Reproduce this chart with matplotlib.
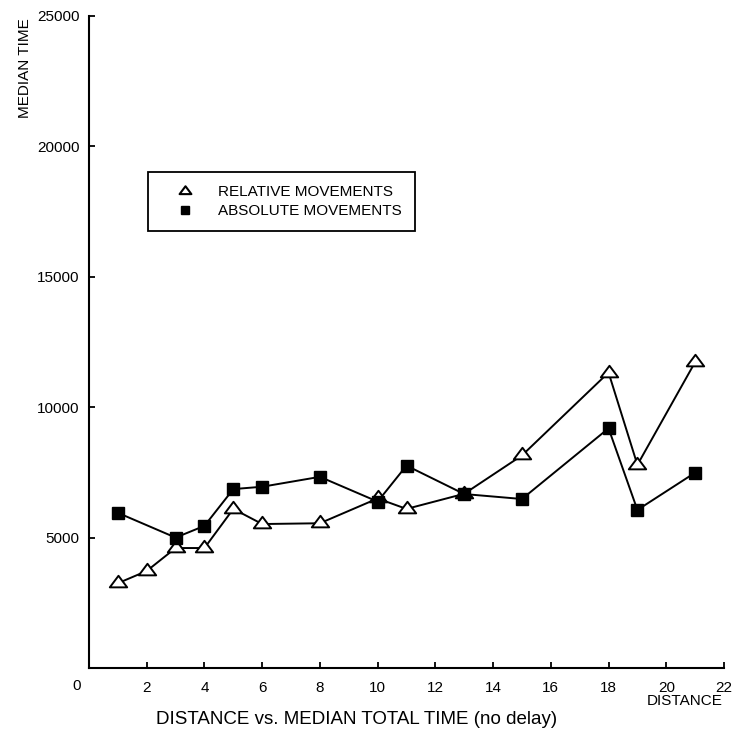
import numpy as np
import matplotlib
matplotlib.use('Agg')
import matplotlib.pyplot as plt
from matplotlib.path import Path
from matplotlib.lines import Line2D

plt.rcParams['font.family'] = ['Liberation Sans', 'DejaVu Sans']

# data
rel_x = [1, 2, 3, 4, 5, 6, 8, 10, 11, 13, 15, 18, 19, 21]
rel_y = [3250, 3720, 4600, 4600, 6100, 5520, 5550, 6500, 6100, 6680, 8150, 11330, 7790, 11730]

abs_x = [1, 3, 4, 5, 6, 8, 10, 11, 13, 15, 18, 19, 21]
abs_y = [5950, 5000, 5450, 6860, 6950, 7330, 6380, 7760, 6670, 6480, 9190, 6060, 7490]

x_ticks = [2, 4, 6, 8, 10, 12, 14, 16, 18, 20, 22]
y_ticks = [5000, 10000, 15000, 20000, 25000]

# triangle with its centroid at the data point
tri = Path([(0, 0.889), (-1, -0.444), (1, -0.444), (0, 0.889)],
           [Path.MOVETO, Path.LINETO, Path.LINETO, Path.CLOSEPOLY])

W, H = 743, 736
fig = plt.figure(figsize=(W / 100, H / 100), dpi=100)
ax = fig.add_axes([89 / W, 1 - 668 / H, (724 - 89) / W, (668 - 16) / H])

ax.plot(rel_x, rel_y, color='black', lw=1.4, marker=tri, ms=12.5,
        mfc='white', mec='black', mew=1.4, zorder=3)
ax.plot(abs_x, abs_y, color='black', lw=1.4, marker='s', ms=9,
        mfc='black', mec='black', zorder=4)

ax.set_xlim(0, 22)
ax.set_ylim(0, 25000)
ax.set_xticks(x_ticks)
ax.set_yticks(y_ticks)
ax.tick_params(direction='in', length=4.5, width=1.3, labelsize=11,
               colors='black')
ax.tick_params(axis='x', pad=9)
ax.tick_params(axis='y', pad=7)

for s in ['top', 'right']:
    ax.spines[s].set_visible(False)
for s in ['left', 'bottom']:
    ax.spines[s].set_linewidth(1.5)

# origin label
ax.annotate('0', xy=(0, 0), xytext=(-12, -18), textcoords='offset pixels',
            ha='center', va='center', fontsize=11)

fig.text(25 / W, 1 - 18 / H, 'MEDIAN TIME', rotation=90, ha='center',
         va='top', fontsize=11)
fig.text(723 / W, 1 - 701 / H, 'DISTANCE', ha='right', va='center',
         fontsize=11)
fig.text(357 / W, 1 - 719 / H, 'DISTANCE vs. MEDIAN TOTAL TIME (no delay)',
         ha='center', va='center', fontsize=13.5)

handles = [
    Line2D([], [], ls='none', marker=tri, ms=8.5, mfc='white', mec='black',
           mew=1.5),
    Line2D([], [], ls='none', marker='s', ms=5.5, mfc='black', mec='black'),
]
leg = ax.legend(handles, ['RELATIVE MOVEMENTS', 'ABSOLUTE MOVEMENTS'],
                loc='upper left', bbox_to_anchor=(148 / W, 1 - 172 / H),
                bbox_transform=fig.transFigure, borderaxespad=0,
                fontsize=11, frameon=True, fancybox=False, shadow=False,
                borderpad=0.85, handlelength=3.1, handletextpad=0.63,
                labelspacing=0.35)
leg.get_frame().set_edgecolor('black')
leg.get_frame().set_linewidth(1.3)
leg.get_frame().set_alpha(1)

fig.savefig('out.png', dpi=100)
